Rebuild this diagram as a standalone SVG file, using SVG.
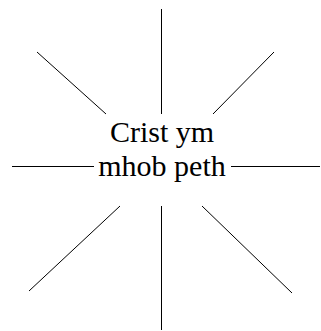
<svg xmlns="http://www.w3.org/2000/svg" width="321" height="331" viewBox="0 0 321 331">
<style>
.ray{stroke:#000;stroke-width:1;fill:none}
.lbl{font-family:"Liberation Serif","Times New Roman",serif;font-size:30px;fill:#000;text-anchor:middle}
</style>
<rect width="321" height="331" fill="#fff"/>
<g id="connectors">
<line class="ray" x1="161.5" y1="9" x2="161.5" y2="114"/>
<line class="ray" x1="37" y1="52" x2="106" y2="114"/>
<line class="ray" x1="274" y1="52" x2="213" y2="114"/>
<line class="ray" x1="12" y1="166.5" x2="94" y2="166.5"/>
<line class="ray" x1="231" y1="166.5" x2="320" y2="166.5"/>
<line class="ray" x1="120" y1="206" x2="29" y2="291"/>
<line class="ray" x1="161.5" y1="206" x2="161.5" y2="330"/>
<line class="ray" x1="202" y1="206" x2="292" y2="293"/>
</g>
<g id="center">
<text class="lbl" x="162" y="142">Crist ym</text>
<text class="lbl" x="162" y="176">mhob peth</text>
</g>
</svg>
